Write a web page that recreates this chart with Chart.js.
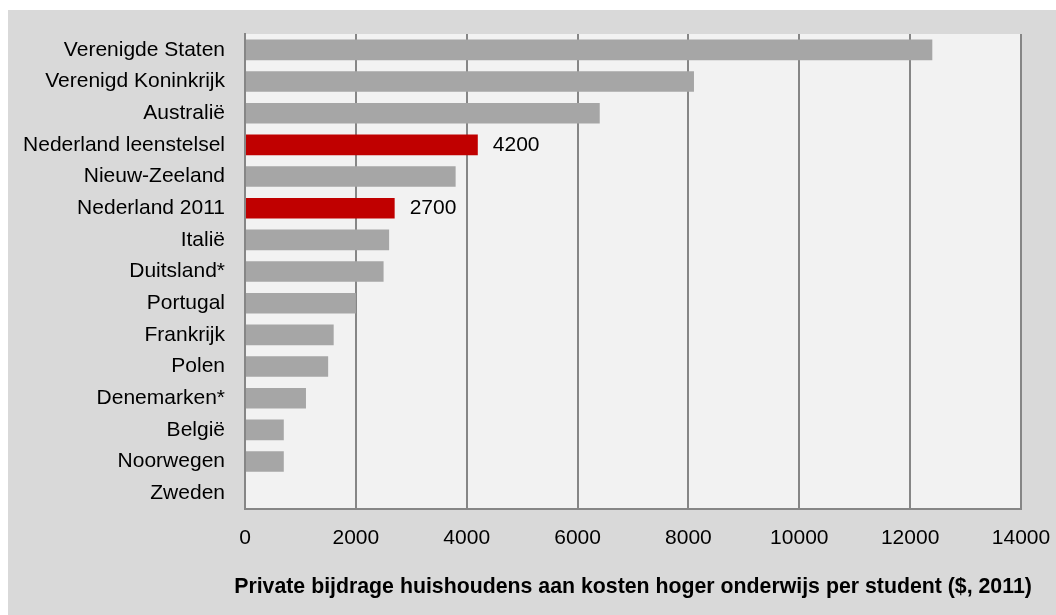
<!DOCTYPE html>
<html>
<head>
<meta charset="utf-8">
<script src="https://cdn.jsdelivr.net/npm/chart.js@4.4.1/dist/chart.umd.min.js"></script>
<style>
  html, body { margin: 0; padding: 0; background: #ffffff; }
  #wrap { position: absolute; left: 8px; top: 10px; width: 1048px; height: 605px; background: #d9d9d9; }
</style>
</head>
<body>
<div id="wrap"><canvas id="myChart"></canvas></div>
<script>
const countries = ['Verenigde Staten', 'Verenigd Koninkrijk', 'Australië', 'Nederland leenstelsel', 'Nieuw-Zeeland',
  'Nederland 2011', 'Italië', 'Duitsland*', 'Portugal', 'Frankrijk', 'Polen', 'Denemarken*', 'België', 'Noorwegen', 'Zweden'];
const contribution = [12400, 8100, 6400, 4200, 3800, 2700, 2600, 2500, 2000, 1600, 1500, 1100, 700, 700, 0];
const highlighted = ['Nederland leenstelsel', 'Nederland 2011'];
const xTicks = [0, 2000, 4000, 6000, 8000, 10000, 12000, 14000];
const axisTitle = 'Private bijdrage huishoudens aan kosten hoger onderwijs per student ($, 2011)';

const fontName = "'Liberation Sans', Arial, sans-serif";

// light plot background
const plotBg = {
  id: 'plotBg',
  beforeDraw(chart) {
    const { ctx, chartArea: a } = chart;
    ctx.save();
    ctx.fillStyle = '#f2f2f2';
    ctx.fillRect(a.left, a.top, a.right - a.left, a.bottom - a.top);
    ctx.restore();
  }
};

// value labels only on the red bars
const valueLabels = {
  id: 'valueLabels',
  afterDatasetsDraw(chart) {
    const ctx = chart.ctx;
    const meta = chart.getDatasetMeta(0);
    ctx.save();
    ctx.font = '21px ' + fontName;
    ctx.fillStyle = '#000000';
    ctx.textAlign = 'left';
    ctx.textBaseline = 'middle';
    meta.data.forEach((bar, i) => {
      if (highlighted.includes(countries[i])) {
        ctx.fillText(String(contribution[i]), bar.x + 15, bar.y);
      }
    });
    ctx.restore();
  }
};

// axis title is wider than the plot, so draw it without squeezing
const xTitle = {
  id: 'xTitle',
  afterDraw(chart) {
    const ctx = chart.ctx;
    const x = chart.scales.x;
    ctx.save();
    ctx.font = 'bold 21.3px ' + fontName;
    ctx.fillStyle = '#000000';
    ctx.textAlign = 'center';
    ctx.textBaseline = 'middle';
    ctx.fillText(axisTitle, (x.left + x.right) / 2, x.bottom - 28);
    ctx.restore();
  }
};

function noPad(s) {
  s.paddingLeft = 0; s.paddingRight = 0; s.paddingTop = 0; s.paddingBottom = 0;
}

const ctx = document.getElementById('myChart').getContext('2d');
const myChart = new Chart(ctx, {
  type: 'bar',
  data: {
    labels: countries,
    datasets: [{
      data: contribution,
      backgroundColor: countries.map(c => highlighted.includes(c) ? '#c00000' : '#a6a6a6'),
      borderWidth: 0,
      barPercentage: 0.65,
      categoryPercentage: 1
    }]
  },
  options: {
    indexAxis: 'y',
    responsive: true,
    maintainAspectRatio: false,
    animation: false,
    layout: { padding: { top: 24, right: 35, left: 0, bottom: 0 } },
    plugins: {
      legend: { display: false },
      tooltip: { enabled: false }
    },
    scales: {
      x: {
        min: 0,
        max: 14000,
        afterBuildTicks: s => { s.ticks = xTicks.map(v => ({ value: v })); },
        afterFit: s => { s.height = 106; noPad(s); },
        ticks: {
          color: '#000000',
          font: { family: fontName, size: 21 },
          padding: 17,
          maxRotation: 0,
          callback: v => String(v)
        },
        grid: { color: '#868686', lineWidth: 2, drawTicks: false },
        border: { color: '#868686', width: 2 },
        title: { display: false }
      },
      y: {
        afterFit: s => { s.width = 237; noPad(s); },
        ticks: {
          color: '#000000',
          font: { family: fontName, size: 21 },
          padding: 20
        },
        grid: { display: false, drawTicks: false },
        border: { color: '#868686', width: 2 }
      }
    }
  },
  plugins: [plotBg, valueLabels, xTitle]
});
</script>
</body>
</html>
